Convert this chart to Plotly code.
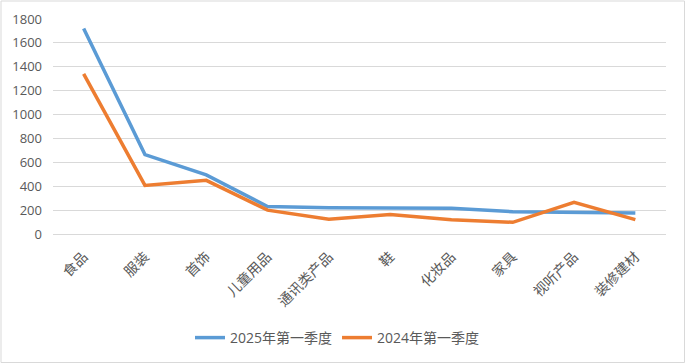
import plotly.graph_objects as go

categories = ["食品", "服装", "首饰", "儿童用品", "通讯类产品", "鞋", "化妆品", "家具", "视听产品", "装修建材"]
series_2025 = [1720, 665, 495, 230, 220, 217, 215, 187, 178, 176]
series_2024 = [1340, 407, 449, 200, 123, 164, 120, 98, 265, 120]
y_ticks = [0, 200, 400, 600, 800, 1000, 1200, 1400, 1600, 1800]

W, H = 686, 364
ml, mr, mt, mb = 53, 20, 19, 130
pw, ph = W - ml - mr, H - mt - mb

fig = go.Figure()
fig.add_trace(go.Scatter(x=categories, y=series_2025, mode="lines", name="2025年第一季度",
                         line=dict(color="#5B9BD5", width=3.5)))
fig.add_trace(go.Scatter(x=categories, y=series_2024, mode="lines", name="2024年第一季度",
                         line=dict(color="#ED7D31", width=3.5)))

font = "Open Sans, Noto Sans CJK SC, sans-serif"
fig.update_layout(
    width=W, height=H,
    margin=dict(l=ml, r=mr, t=mt, b=mb, autoexpand=False),
    paper_bgcolor="white", plot_bgcolor="white",
    font=dict(family=font, size=13, color="#595959"),
    showlegend=True,
    legend=dict(orientation="h", x=0.5 - 22 / pw, xanchor="center", y=-104 / ph, yanchor="middle",
                font=dict(size=14, color="#595959"), itemwidth=30),
    xaxis=dict(tickangle=-45, showgrid=False, showline=False, ticks="", automargin=False,
               range=[-0.5, len(categories) - 0.5], ticklabelstandoff=11,
               tickfont=dict(size=14, color="#595959")),
    yaxis=dict(range=[0, 1800], tickvals=y_ticks, showgrid=True, gridcolor="#D9D9D9",
               gridwidth=1, zeroline=True, zerolinecolor="#D9D9D9", zerolinewidth=1,
               showline=False, ticks="", ticklabelstandoff=10, automargin=False,
               tickfont=dict(size=13, color="#595959")),
    shapes=[dict(type="rect", xref="paper", yref="paper",
                 x0=(-ml + 1) / pw, x1=(pw + mr - 1.5) / pw,
                 y0=(-mb + 1.5) / ph, y1=(ph + mt - 1) / ph,
                 line=dict(color="#D9D9D9", width=1), layer="below")],
)

fig.write_html("out.html", config={"displayModeBar": False},
               post_script="document.body.style.margin='0';")
